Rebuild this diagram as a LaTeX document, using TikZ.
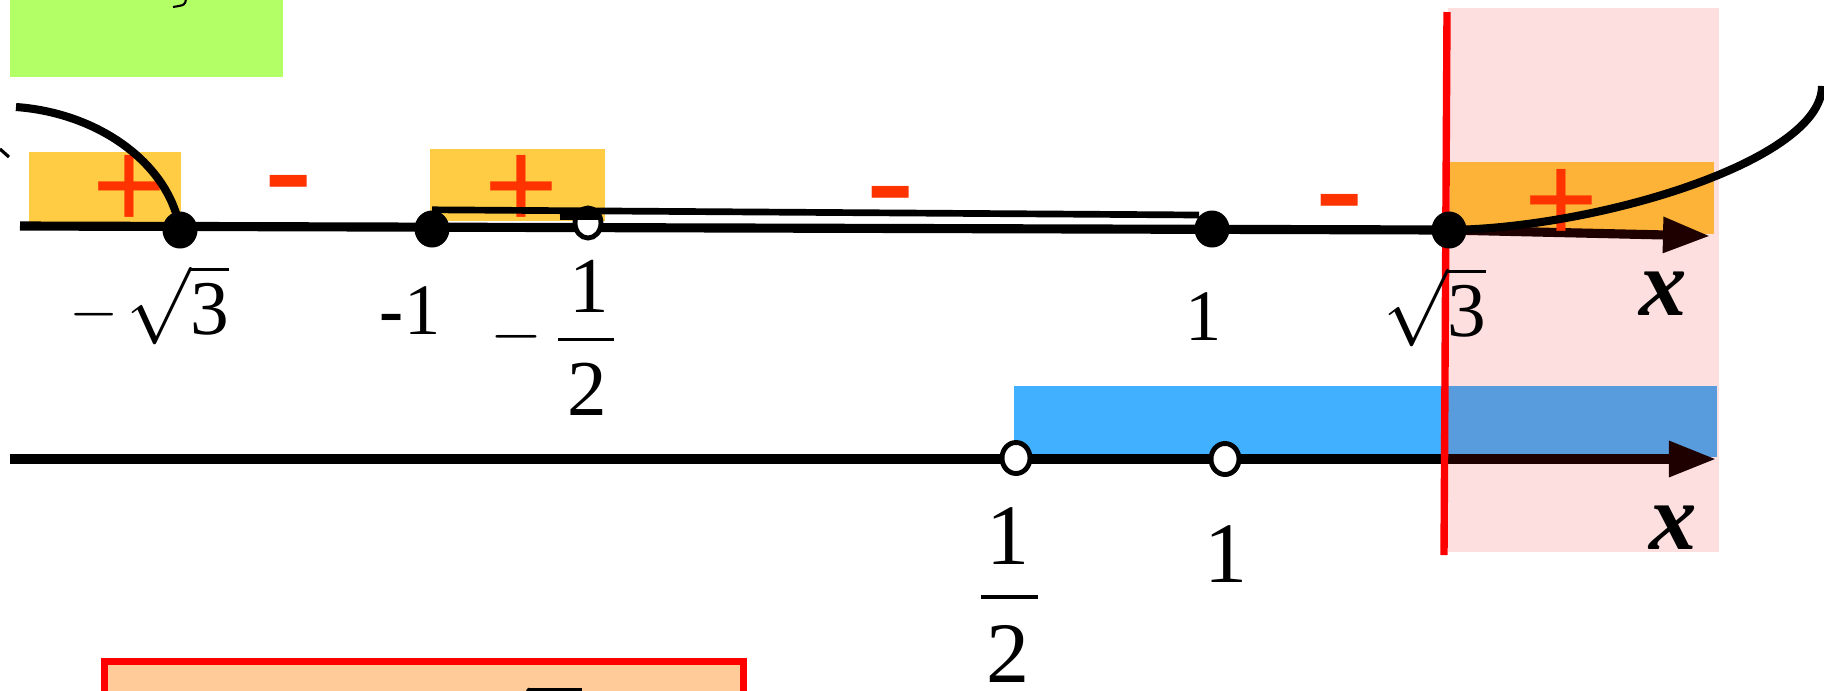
\documentclass[tikz,border=0pt]{standalone}
\usepackage{fix-cm}
\usepackage{fontspec}
\setmainfont{Liberation Serif}
\newfontfamily\signfont{Liberation Sans}
\usetikzlibrary{arrows.meta,shapes.geometric}

\definecolor{boxgreen}{HTML}{B3FF66}
\definecolor{signyellow}{HTML}{FFCC44}
\definecolor{signorange}{HTML}{FDB338}
\definecolor{zonepink}{HTML}{FDDFE0}
\definecolor{solblue}{HTML}{40B0FF}
\definecolor{solbluedeep}{HTML}{589CDE}
\definecolor{signred}{HTML}{FF3300}
\definecolor{answerfill}{HTML}{FFCC99}
\definecolor{axisdark}{HTML}{1F0000}

\newcommand\fs[1]{\fontsize{#1}{#1}\selectfont}

\tikzset{
  axisline/.style={line width=2.6pt},
  axistip/.style={-{Triangle[length=0.47cm,width=0.34cm]}},
  graphline/.style={line width=2.3pt},
  dotfill/.style={ellipse, fill=black, inner sep=0pt, minimum width=0.35cm, minimum height=0.37cm},
  hollow/.style={ellipse, draw=black, fill=white, line width=1.4pt, inner sep=0pt,
                 minimum width=0.28cm, minimum height=0.31cm},
  numlabel/.style={inner sep=0pt, anchor=base},
  rootlabel/.style={inner sep=0pt, anchor=base east},
  plussign/.style={inner sep=0pt, text=signred, font=\signfont\fs{36}},
  minussign/.style={inner sep=0pt, text=signred, font=\signfont\fs{43}},
  varlabel/.style={inner sep=0pt, font=\bfseries\itshape\fs{27}},
}

\begin{document}
\begin{tikzpicture}[x=0.01cm, y=-0.01cm]
\useasboundingbox (0,0) rectangle (1824,690);

% shaded bands
\fill[boxgreen] (10,0) rectangle (283,77);
\fill[zonepink] (1448,8) rectangle (1719,552);
\fill[signorange] (1450,162) rectangle (1714,234);
\fill[signyellow] (29,152) rectangle (181,222);
\fill[signyellow] (430,149) rectangle (605,221);
\fill[solblue] (1014,386) rectangle (1446,457);
\fill[solbluedeep] (1446,386) rectangle (1717,457);
\filldraw[fill=answerfill, draw=red, line width=1.99pt] (104.5,661.5) rectangle (743.5,760);

% points on the two axes
\coordinate (a1s) at (20,226);
\coordinate (pA) at (180,230);
\coordinate (pB) at (432,229);
\coordinate (pC) at (588,223);
\coordinate (pD) at (1212,229);
\coordinate (pE) at (1449,230);
\coordinate (a1e) at (1710,236);
\coordinate (a2s) at (10,459);
\coordinate (pF) at (1016,458);
\coordinate (pG) at (1225,459);
\coordinate (a2m) at (1446,459);
\coordinate (a2e) at (1716,459);
\coordinate (rTop) at (1447,12);
\coordinate (rBot) at (1444,555);
\coordinate (cL) at (16,107);
\coordinate (cR) at (1822,86);

% axes
\draw[axisline] (a1s) -- (pE);
\draw[axisline, axisdark, axistip] (pE) -- (a1e);
\draw[axisline] (a2s) -- (a2m);
\draw[axisline, axisdark, axistip] (a2m) -- (a2e);

% boundary line x = sqrt(3)
\draw[red, line width=2.1pt] (rTop) -- (rBot);

% signs of the intervals
\node[plussign] (p1) at (129.5,192) {+};
\node[plussign] (p2) at (521,192) {+};
\node[plussign] (p3) at (1561,206) {+};
\node[minussign] (s1) at (288.5,198) {-};
\node[minussign] (s2) at (890.5,209) {-};
\node[minussign] (s3) at (1339.5,217) {-};

% sign curve
\draw[graphline] (cL) .. controls (100,113) and (170,165) .. (pA);
\draw[graphline] (pE) .. controls (1600,228) and (1822,160) .. (cR);
\draw[line width=0.6pt] (186,-1) .. controls (185,5) .. (173,7);
\draw[line width=0.9pt] (0,149) -- (9,157);

% marked points
\node[dotfill] (dA) at (pA) {};
\node[dotfill] (dB) at (pB) {};
\node[hollow, minimum width=0.26cm, minimum height=0.30cm] (hC) at (pC) {};
\node[dotfill] (dD) at (pD) {};
\node[dotfill] (dE) at (pE) {};
\node[hollow] (hF) at (pF) {};
\node[hollow] (hG) at (pG) {};

% curve branch over (-1, 1)
\coordinate (uEnd) at (1199,215);
\draw[line width=1.9pt] (dB.north) -- (uEnd);
\coordinate (kA) at (560,216);
\coordinate (kB) at (598,216);
\draw[line width=2.3pt] (kA) -- (kB);

% labels of the upper axis
\node[inner sep=0pt, font=\fs{18}] (mA) at (94,315) {$-$};
\node[rootlabel, font=\fs{22}] (rA) at (230,334) {$\sqrt{\hbox{3}}$};
\node[rootlabel, font=\fs{20.6}] (lB) at (441,334) {{\bfseries -}1};
\node[inner sep=0pt, font=\fs{19}] (mC) at (516.5,337) {$-$};
\node[numlabel, font=\fs{22.5}] (nC) at (589.5,312) {1};
\node[numlabel, font=\fs{22.5}] (dCn) at (587,415) {2};
\coordinate (fC1) at (558,339);
\coordinate (fC2) at (614,339);
\draw[line width=0.85pt] (fC1) -- (fC2);
\node[numlabel, font=\fs{20.6}] (lD) at (1204,340) {1};
\node[rootlabel, font=\fs{22}] (rE) at (1487,336) {$\sqrt{\hbox{3}}$};
\node[varlabel] (x1) at (1663,294) {x};

% labels of the lower axis
\node[numlabel, font=\fs{24.5}] (nF) at (1008,564) {1};
\coordinate (fF1) at (981,597);
\coordinate (fF2) at (1038,597);
\draw[line width=1.14pt] (fF1) -- (fF2);
\node[numlabel, font=\fs{24.5}] (dF) at (1008,682) {2};
\node[numlabel, font=\fs{24.5}] (lG) at (1226,582) {1};
\node[varlabel] (x2) at (1673,528) {x};

% answer box
\node[inner sep=0pt, anchor=north east, font=\fs{30}] (ans) at (583,683) {$\sqrt{\hbox{3}}$};
\end{tikzpicture}
\end{document}
